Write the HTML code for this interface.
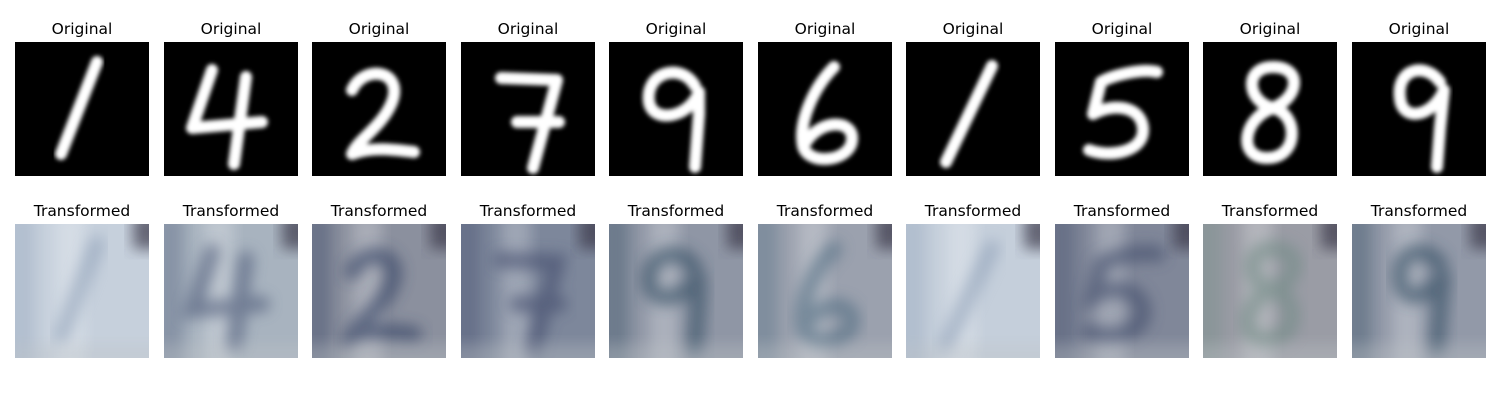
<!DOCTYPE html>
<html><head><meta charset="utf-8"><style>
html,body{margin:0;padding:0;background:#fff;}
svg{display:block;font-family:"DejaVu Sans","Liberation Sans",sans-serif;}
</style></head><body>
<svg id="fig" width="1500" height="400" viewBox="0 0 1500 400">
<defs>
<filter id="soft" x="-20%" y="-20%" width="140%" height="140%"><feGaussianBlur stdDeviation="2.2"/></filter>
<filter id="blurT" x="-30%" y="-30%" width="160%" height="160%"><feGaussianBlur stdDeviation="7"/></filter>
</defs>
</svg>
<script>
const digitLabels = ["1","4","2","7","9","6","1","5","8","9"];
const panelX = [15,164,312,461,609,758,906,1055,1203,1352];
const baseColors = ["#c6d0dc","#a8b3bf","#8b909e","#7d879b","#8f96a5","#9ba1ae","#c5cfdb","#808799","#9a9ca5","#9299a8"];
const inkColors = ["#8fa0b8","#4d5a78","#2f3d60","#3f4a6a","#2e4a5e","#4d6a80","#8fa0b8","#3d4a68","#6f8a84","#2e4a5e"];
const shapes = {
 "1a":"M82 20 L46 112",
 "4":"M48 28 L28 86 L98 80 M82 35 L70 122",
 "2":"M40 48 C52 22 92 28 80 60 C70 85 45 98 40 112 C60 104 85 108 102 110",
 "7":"M40 36 L96 38 L72 126 M56 80 L98 80",
 "9":"M86 44 C72 20 36 30 40 60 C44 82 80 76 90 50 L90 72 L86 125",
 "6":"M76 25 C56 45 40 80 45 104 C50 124 92 120 94 98 C96 78 64 76 48 100",
 "1b":"M86 24 L40 120",
 "5":"M102 30 C86 26 56 34 46 40 L38 72 C60 60 86 65 88 86 C90 110 55 116 34 108",
 "8":"M70 25 C40 25 44 60 70 66 C96 72 96 116 64 116 C34 116 40 76 70 66 C96 56 100 25 70 25",
 "9b":"M88 40 C74 20 44 26 48 56 C50 80 80 76 92 48 L88 86 L85 125"
};
const shapeKeys = ["1a","4","2","7","9","6","1b","5","8","9b"];
const NS="http://www.w3.org/2000/svg";
const svg=document.getElementById('fig');
function mk(tag,attrs){const e=document.createElementNS(NS,tag);for(const k in attrs)e.setAttribute(k,attrs[k]);return e;}
const W=134, topY=42, botY=224;
digitLabels.forEach((d,i)=>{
  const x=panelX[i];
  const t1=mk('text',{x:x+W/2,y:34,'text-anchor':'middle','font-size':15.5,fill:'#000'});
  t1.textContent='Original';
  
  
  svg.appendChild(t1);
  const g1=mk('g',{transform:`translate(${x},${topY})`});
  
  
  g1.appendChild(mk('rect',{x:0,y:0,width:W,height:W,fill:'#000'}));
  g1.appendChild(mk('path',{d:shapes[shapeKeys[i]],fill:'none',stroke:'#fff','stroke-width':12,'stroke-linecap':'round','stroke-linejoin':'round',filter:'url(#soft)'}));
  svg.appendChild(g1);
  const t2=mk('text',{x:x+W/2,y:216,'text-anchor':'middle','font-size':15.5,fill:'#000'});
  t2.textContent='Transformed';
  
  
  svg.appendChild(t2);
  const g2=mk('g',{transform:`translate(${x},${botY})`});
  
  
  const cp=mk('clipPath',{id:'c'+i});cp.appendChild(mk('rect',{x:0,y:0,width:W,height:W}));g2.appendChild(cp);
  const inner=mk('g',{'clip-path':`url(#c${i})`});
  inner.appendChild(mk('rect',{x:0,y:0,width:W,height:W,fill:baseColors[i]}));
  inner.appendChild(mk('rect',{x:-10,y:-10,width:30,height:160,fill:inkColors[i],opacity:0.35,filter:'url(#blurT)'}));
  inner.appendChild(mk('rect',{x:40,y:-10,width:30,height:160,fill:'#fff',opacity:0.25,filter:'url(#blurT)'}));
  inner.appendChild(mk('rect',{x:118,y:-10,width:30,height:35,fill:'#3a3848',opacity:0.7,filter:'url(#blurT)'}));
  inner.appendChild(mk('path',{d:shapes[shapeKeys[i]],fill:'none',stroke:inkColors[i],'stroke-width':16,opacity:0.6,'stroke-linecap':'round',filter:'url(#blurT)'}));
  inner.appendChild(mk('rect',{x:-10,y:120,width:160,height:30,fill:'#bfc4c8',opacity:0.35,filter:'url(#blurT)'}));
  g2.appendChild(inner);
  svg.appendChild(g2);
});
</script>
</body></html>
